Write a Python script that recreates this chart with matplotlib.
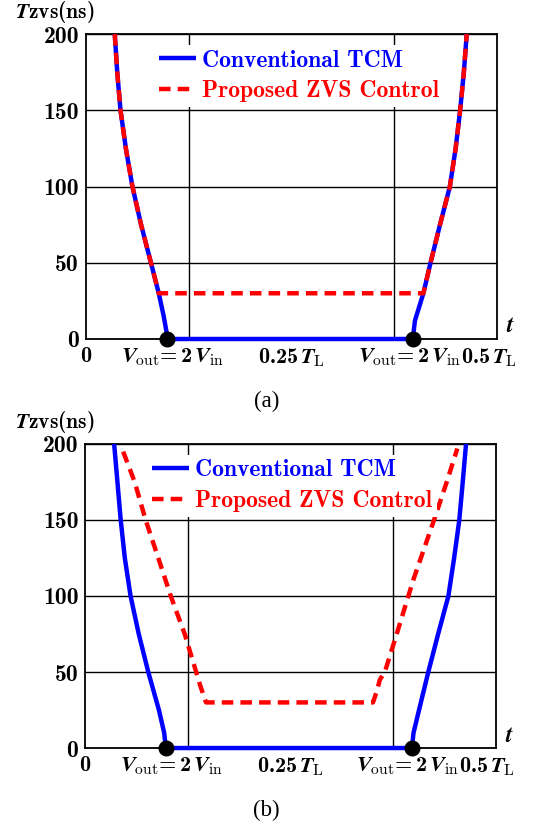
import numpy as np
import matplotlib
matplotlib.use("Agg")
import matplotlib.pyplot as plt

# =========================
# Data
# =========================

# (a) conventional TCM, left and right branches (t in units of T_L, Tzvs in ns)
a_blue_left_t = [0.035, 0.038, 0.042, 0.0485, 0.0565, 0.0670, 0.0790, 0.0885, 0.0945, 0.0978, 0.0989]
a_blue_left_y = [200, 175, 150, 125, 100, 75, 50, 30, 15, 5, 0]
a_blue_right_t = [0.398, 0.3985, 0.400, 0.4103, 0.419, 0.4305, 0.4425, 0.4495, 0.455, 0.4595, 0.463]
a_blue_right_y = [0, 5, 12, 30, 50, 75, 100, 125, 150, 175, 200]

# (a) proposed ZVS control: follows TCM above the 30 ns floor
a_red_t = [0.035, 0.038, 0.042, 0.0485, 0.0565, 0.0670, 0.0790, 0.0885,
           0.4103, 0.419, 0.4305, 0.4425, 0.4495, 0.455, 0.4595, 0.463]
a_red_y = [200, 175, 150, 125, 100, 75, 50, 30,
           30, 50, 75, 100, 125, 150, 175, 200]

# (b) conventional TCM
b_blue_left_t = [0.035, 0.039, 0.043, 0.048, 0.055, 0.065, 0.0766, 0.0896, 0.096, 0.098]
b_blue_left_y = [200, 175, 150, 125, 100, 75, 50, 25, 10, 0]
b_blue_right_t = [0.398, 0.400, 0.4067, 0.418, 0.430, 0.4425, 0.4495, 0.4558, 0.460, 0.464]
b_blue_right_y = [0, 10, 25, 50, 75, 100, 125, 150, 175, 200]

# (b) proposed ZVS control
b_red_t = [0.046, 0.060, 0.0734, 0.0888, 0.104, 0.121, 0.135, 0.140, 0.147,
           0.3506, 0.355, 0.359, 0.365, 0.3795, 0.3937, 0.4006, 0.425, 0.4405, 0.4534]
b_red_y = [195, 175, 150, 125, 100, 75, 50, 41, 30,
           30, 37, 45, 50, 75, 100, 112, 150, 175, 197]

yticks = [0, 50, 100, 150, 200]
grid_t = [0.125, 0.25, 0.375]
xtick_pos = [0.0, 0.105, 0.25, 0.393, 0.49]
xtick_labels = [r"$\mathbf{0}$",
                r"$V_{\mathrm{out}}\!\mathbf{=2}\,V_{\mathrm{in}}$",
                r"$\mathbf{0.25}\,T_{\mathrm{L}}$",
                r"$V_{\mathrm{out}}\!\mathbf{=2}\,V_{\mathrm{in}}$",
                r"$\mathbf{0.5}\,T_{\mathrm{L}}$"]
legend_labels = ["Conventional TCM", "Proposed ZVS Control"]

BLUE = "#0000ff"
RED = "#ff0000"

plt.rcParams["mathtext.fontset"] = "custom"
plt.rcParams["mathtext.rm"] = "cmr10"
plt.rcParams["mathtext.it"] = "STIXGeneral:italic:bold"
plt.rcParams["mathtext.bf"] = "cmb10"
plt.rcParams["mathtext.fallback"] = "stix"

BOLD = ["cmb10", "DejaVu Serif"]


def draw_panel(ax, bl_t, bl_y, br_t, br_y, red_t, red_y, caption, leg_x):
    blue_t = list(bl_t) + list(br_t)
    blue_y = list(bl_y) + list(br_y)
    ax.plot(blue_t, blue_y, color=BLUE, lw=3.2, solid_capstyle="butt",
            solid_joinstyle="round", label=legend_labels[0], zorder=3,
            clip_on=False)
    ax.plot(red_t, red_y, color=RED, lw=3.2, dashes=(2.6, 1.6),
            label=legend_labels[1], zorder=4)
    ax.plot([bl_t[-1], br_t[0]], [bl_y[-1], br_y[0]], "o", color="black",
            ms=10.5, zorder=5, clip_on=False)

    ax.set_xlim(0, 0.5)
    ax.set_ylim(0, 200)
    ax.set_yticks(yticks)
    ax.set_yticklabels([str(v) for v in yticks], family=BOLD, fontsize=17)
    ax.set_xticks(xtick_pos)
    ax.set_xticklabels(xtick_labels, fontsize=16)
    ax.set_xticks(grid_t, minor=True)
    ax.tick_params(which="both", length=0, pad=5)
    ax.grid(which="minor", axis="x", color="black", lw=1.0)
    ax.grid(which="major", axis="y", color="black", lw=1.0)
    ax.set_axisbelow(True)
    for s in ax.spines.values():
        s.set_linewidth(1.3)

    ax.text(1.022, 0.005, r"$t$", transform=ax.transAxes, fontsize=17,
            ha="left", va="bottom")
    ax.text(-0.172, 1.071, r"$T\mathbf{zvs(ns)}$", transform=ax.transAxes,
            fontsize=15.5, ha="left", va="center")
    ax.text(0.44, -0.205, caption, transform=ax.transAxes,
            family="Liberation Serif", fontsize=16.5, ha="center", va="center")

    leg = ax.legend(loc="upper left", bbox_to_anchor=(leg_x, 0.965),
                    prop={"family": BOLD, "size": 17}, labelcolor="linecolor",
                    frameon=True, fancybox=False, framealpha=1.0,
                    edgecolor="none", borderpad=0.2, handlelength=1.6,
                    handletextpad=0.25, labelspacing=0.38, borderaxespad=0)
    leg.set_zorder(6)


fig = plt.figure(figsize=(5.34, 8.24), dpi=100)
ax_a = fig.add_axes([0.161, 0.5886, 0.770, 0.370])
ax_b = fig.add_axes([0.160, 0.0922, 0.768, 0.369])

draw_panel(ax_a, a_blue_left_t, a_blue_left_y, a_blue_right_t, a_blue_right_y,
           a_red_t, a_red_y, "(a)", 0.165)
draw_panel(ax_b, b_blue_left_t, b_blue_left_y, b_blue_right_t, b_blue_right_y,
           b_red_t, b_red_y, "(b)", 0.150)

fig.savefig("out.png", dpi=100)
